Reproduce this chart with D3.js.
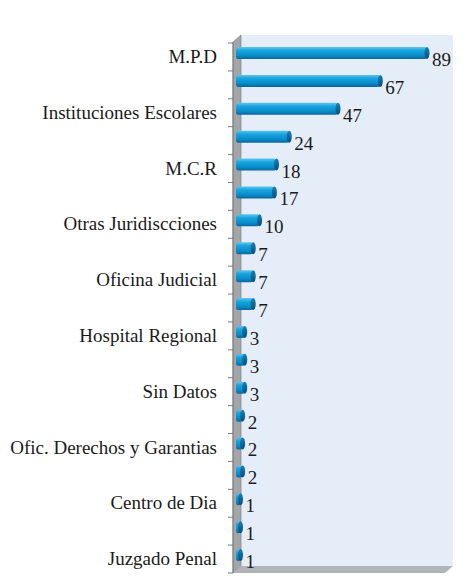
<!DOCTYPE html>
<html>
<head>
<meta charset="utf-8">
<script src="https://cdn.jsdelivr.net/npm/d3@7"></script>
<style>
  html, body { margin: 0; padding: 0; background: #fff; }
  svg { display: block; font-family: "Liberation Serif", "DejaVu Serif", serif; }
</style>
</head>
<body>
<div id="chart"></div>
<script>
// categorías (solo una de cada dos tiene etiqueta visible)
const labels = [
  "M.P.D", "", "Instituciones Escolares", "", "M.C.R", "",
  "Otras Juridiscciones", "", "Oficina Judicial", "", "Hospital Regional", "",
  "Sin Datos", "", "Ofic. Derechos y Garantias", "", "Centro de Dia", "", "Juzgado Penal"
];
const values = [89, 67, 47, 24, 18, 17, 10, 7, 7, 7, 3, 3, 3, 2, 2, 2, 1, 1, 1];
const xDomain = [0, 100];

const WIDTH = 475;
const HEIGHT = 586;
const PLOT = { left: 233, right: 445, top: 43, bottom: 573 };
const DEPTH = { dx: 8, dy: 7 };

const svg = d3.select("#chart")
  .append("svg")
  .attr("width", WIDTH)
  .attr("height", HEIGHT);

const x = d3.scaleLinear()
  .domain(xDomain)
  .range([238.4, 450.3]);

const y = d3.scaleBand()
  .domain(d3.range(values.length))
  .range([PLOT.top, PLOT.bottom])
  .padding(0);

const defs = svg.append("defs");
const grad = defs.append("linearGradient")
  .attr("id", "barGrad")
  .attr("x1", 0).attr("y1", 0).attr("x2", 0).attr("y2", 1);
grad.append("stop").attr("offset", "0%").attr("stop-color", "#5cc6ee");
grad.append("stop").attr("offset", "30%").attr("stop-color", "#17a3de");
grad.append("stop").attr("offset", "70%").attr("stop-color", "#0a8ccb");
grad.append("stop").attr("offset", "100%").attr("stop-color", "#06689c");

const capGrad = defs.append("linearGradient")
  .attr("id", "capGrad")
  .attr("x1", 0).attr("y1", 0).attr("x2", 0).attr("y2", 1);
capGrad.append("stop").attr("offset", "0%").attr("stop-color", "#1b7fb4");
capGrad.append("stop").attr("offset", "100%").attr("stop-color", "#0a4f7a");

// paredes 3D
const wallTop = PLOT.top - DEPTH.dy - 1;
svg.append("rect")
  .attr("x", PLOT.left + DEPTH.dx)
  .attr("y", wallTop)
  .attr("width", PLOT.right - PLOT.left)
  .attr("height", PLOT.bottom - DEPTH.dy - wallTop)
  .attr("fill", "#e5eef8");

svg.append("path")
  .attr("d", `M${PLOT.left},${wallTop + DEPTH.dy} L${PLOT.left + DEPTH.dx},${wallTop}
    L${PLOT.left + DEPTH.dx},${PLOT.bottom - DEPTH.dy} L${PLOT.left},${PLOT.bottom} Z`)
  .attr("fill", "#a3a5a8")
  .attr("stroke", "#8a8c8f")
  .attr("stroke-width", 0.8);

svg.append("path")
  .attr("d", `M${PLOT.left},${PLOT.bottom} L${PLOT.left + DEPTH.dx},${PLOT.bottom - DEPTH.dy}
    L${PLOT.right + DEPTH.dx},${PLOT.bottom - DEPTH.dy} L${PLOT.right},${PLOT.bottom} Z`)
  .attr("fill", "#b1b5b9");

// eje
svg.append("line")
  .attr("x1", PLOT.left).attr("x2", PLOT.left)
  .attr("y1", wallTop + DEPTH.dy).attr("y2", PLOT.bottom)
  .attr("stroke", "#7a7c80");

svg.append("g")
  .selectAll("line")
  .data(d3.range(values.length + 1))
  .enter()
  .append("line")
  .attr("x1", PLOT.left - 5)
  .attr("x2", PLOT.left)
  .attr("y1", i => i < values.length ? y(i) : PLOT.bottom)
  .attr("y2", i => i < values.length ? y(i) : PLOT.bottom)
  .attr("stroke", "#7a7c80");

svg.append("g")
  .attr("transform", `translate(${PLOT.left},0)`)
  .call(d3.axisLeft(y).tickSize(0).tickPadding(16).tickFormat(i => labels[i]))
  .call(g => g.select(".domain").remove())
  .call(g => g.selectAll("text")
    .attr("dy", "0.32em")
    .style("font-family", "'Liberation Serif', serif")
    .style("font-size", "19px")
    .attr("fill", "#1a1a1a"));

// barras
const barH = 12;
const bars = svg.append("g")
  .selectAll("g")
  .data(values)
  .enter()
  .append("g")
  .attr("transform", (d, i) => `translate(0,${y(i) + 4})`);

bars.append("rect")
  .attr("x", 236)
  .attr("y", 0)
  .attr("width", d => x(d) - 236)
  .attr("height", barH)
  .attr("rx", 2.5)
  .attr("fill", "url(#barGrad)");

bars.append("ellipse")
  .attr("cx", d => x(d))
  .attr("cy", barH / 2)
  .attr("rx", 2.5)
  .attr("ry", barH / 2)
  .attr("fill", "url(#capGrad)");

bars.append("text")
  .attr("x", d => x(d) + 5)
  .attr("y", y.bandwidth() / 2 + 5)
  .style("font-size", "19px")
  .attr("fill", "#1a1a1a")
  .text(d => d);
</script>
</body>
</html>
